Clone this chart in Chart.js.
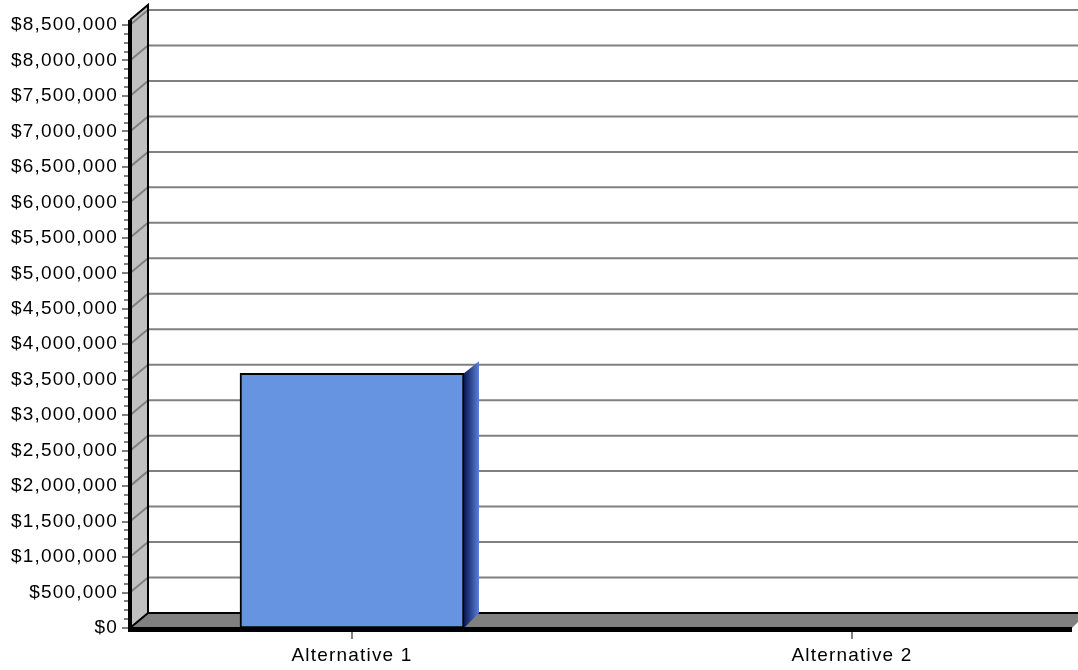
<!DOCTYPE html>
<html>
<head>
<meta charset="utf-8">
<title>Alternative cost comparison</title>
<script src="https://cdn.jsdelivr.net/npm/chart.js@4/dist/chart.umd.min.js"></script>
<style>
  html, body { margin: 0; padding: 0; background: #fff; }
  canvas { display: block; }
</style>
</head>
<body>
<canvas id="chart" width="1078" height="670"></canvas>
<script>
// ---- data ----
const categories = ['Alternative 1', 'Alternative 2'];
const costValues = [3590000, 0];

// ---- value axis ticks ----
const yMin = 0;
const yMax = 8500000;
const yMajorStep = 500000;
const yMinorStep = 125000;

// ---- 3D box styling ----
const DX = 18;          // depth of the back wall / floor, horizontal
const DY = 15;          // depth of the back wall / floor, vertical
const BAR_DX = 15;      // depth of the bar side face
const BAR_DY_TOP = 12;
const WALL_EXTRA = 5;   // wall reaches a little above the top gridline
const FONT = { family: "'Liberation Sans', Arial, Helvetica, sans-serif", size: 19 };

const money = v => '$' + Number(v).toLocaleString('en-US');

const boxPlugin = {
  id: 'box3d',
  beforeDraw(chart) {
    chart.ctx.letterSpacing = '1.2px';
  },
  beforeDatasetsDraw(chart) {
    const { ctx, chartArea: a, scales: { y } } = chart;
    const W = chart.width;
    const L = a.left, B = a.bottom, T = a.top - WALL_EXTRA;
    ctx.save();

    // left side wall
    ctx.fillStyle = '#c0c0c0';
    ctx.beginPath();
    ctx.moveTo(L, B);
    ctx.lineTo(L, T);
    ctx.lineTo(L + DX, T - DY);
    ctx.lineTo(L + DX, B - DY);
    ctx.closePath();
    ctx.fill();

    // floor
    ctx.fillStyle = '#808080';
    ctx.beginPath();
    ctx.moveTo(L, B);
    ctx.lineTo(L + DX, B - DY);
    ctx.lineTo(W, B - DY);
    ctx.lineTo(W, B - 6);
    ctx.lineTo(a.right, B);
    ctx.closePath();
    ctx.fill();

    // gridlines: across the side wall and along the back wall
    ctx.strokeStyle = '#808080';
    ctx.lineWidth = 2;
    for (let v = yMin + yMajorStep; v <= yMax; v += yMajorStep) {
      const py = y.getPixelForValue(v);
      ctx.beginPath();
      ctx.moveTo(L, py);
      ctx.lineTo(L + DX, py - DY);
      ctx.lineTo(W, py - DY);
      ctx.stroke();
    }

    // box edges
    ctx.strokeStyle = '#000';
    ctx.lineWidth = 2;
    ctx.beginPath();
    ctx.moveTo(L, T);
    ctx.lineTo(L + DX, T - DY);
    ctx.lineTo(L + DX, B - DY);
    ctx.lineTo(W, B - DY);
    ctx.moveTo(L + DX, B - DY);
    ctx.lineTo(L, B);
    ctx.stroke();

    ctx.restore();
  },
  afterDatasetsDraw(chart) {
    const { ctx, chartArea: a, scales: { x, y } } = chart;
    const L = a.left, B = a.bottom, T = a.top - WALL_EXTRA;
    ctx.save();

    // bar side faces
    chart.getDatasetMeta(0).data.forEach(bar => {
      const p = bar.getProps(['x', 'y', 'base', 'width'], true);
      if (p.base - p.y < 1) return;
      const R = p.x + p.width / 2;
      const g = ctx.createLinearGradient(R, 0, R + BAR_DX, 0);
      g.addColorStop(0, '#0b1650');
      g.addColorStop(1, '#5a80e0');
      ctx.fillStyle = g;
      ctx.beginPath();
      ctx.moveTo(R, p.y);
      ctx.lineTo(R + BAR_DX, p.y - BAR_DY_TOP);
      ctx.lineTo(R + BAR_DX, p.base - DY);
      ctx.lineTo(R, p.base);
      ctx.closePath();
      ctx.fill();
    });

    // front edge of the floor
    ctx.fillStyle = '#000';
    ctx.fillRect(L - 2, B - 1, a.right - L + 2, 5);

    // value axis line
    ctx.fillRect(L - 2, T, 4, B + 4 - T);

    // value axis tick marks
    ctx.fillStyle = '#808080';
    for (let v = yMin; v <= yMax; v += yMinorStep) {
      const py = Math.round(y.getPixelForValue(v));
      const major = (v % yMajorStep) === 0;
      const len = major ? 6 : 4;
      ctx.fillRect(L - 2 - len, py - 1, len, 2);
    }

    // category tick marks
    categories.forEach((c, i) => {
      const px = Math.round(x.getPixelForValue(i));
      ctx.fillRect(px - 1, B + 4, 2, 7);
    });

    ctx.restore();
  }
};

new Chart(document.getElementById('chart'), {
  type: 'bar',
  data: {
    datasets: [{
      label: 'Cost',
      data: categories.map((c, i) => ({ x: i, y: costValues[i] })),
      backgroundColor: '#6794e0',
      borderColor: '#000',
      borderWidth: 2,
      borderSkipped: false,
      barThickness: 224
    }]
  },
  options: {
    responsive: false,
    devicePixelRatio: 1,
    animation: false,
    layout: { padding: { top: 25, right: 6, bottom: 0, left: 0 } },
    plugins: {
      legend: { display: false },
      tooltip: { enabled: false }
    },
    scales: {
      x: {
        type: 'linear',
        offset: false,
        min: -0.444,
        max: 1.44,
        grid: { display: false, drawTicks: false, offset: false },
        border: { display: false },
        afterBuildTicks(scale) {
          scale.ticks = categories.map((c, i) => ({ value: i }));
        },
        afterFit(scale) { scale.height = 42; },
        ticks: {
          autoSkip: false,
          maxRotation: 0,
          padding: 16,
          color: '#000',
          font: FONT,
          callback: v => categories[v]
        }
      },
      y: {
        min: yMin,
        max: yMax,
        grid: { display: false, drawTicks: false },
        border: { display: false },
        afterFit(scale) { scale.width = 130; },
        ticks: {
          stepSize: yMajorStep,
          padding: 12,
          color: '#000',
          font: FONT,
          callback: v => money(v)
        }
      }
    }
  },
  plugins: [boxPlugin]
});
</script>
</body>
</html>
